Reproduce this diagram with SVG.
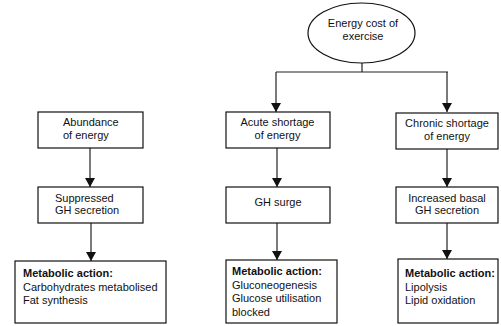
<svg xmlns="http://www.w3.org/2000/svg" width="501" height="326" viewBox="0 0 501 326">
<style>
.box{fill:#fff;stroke:#111;stroke-width:1.2}
.t{font-family:"Liberation Sans",Arial,sans-serif;font-size:11px;fill:#111}
.b{font-weight:bold}
.c{text-anchor:middle}
.ln{fill:none;stroke:#222;stroke-width:1.2}
</style>
<defs>
<marker id="ah" markerWidth="10" markerHeight="11" refX="9" refY="5" orient="auto" markerUnits="userSpaceOnUse">
<path d="M0,0 L9,5 L0,10 Z" fill="#111"/>
</marker>
</defs>
<rect width="501" height="326" fill="#fff"/>
<g id="connectors">
<path class="ln" d="M362,63 V72 M276,72 H448"/>
<path class="ln" d="M276,72 V112" marker-end="url(#ah)"/>
<path class="ln" d="M447,72 V112" marker-end="url(#ah)"/>
<path class="ln" d="M90,148 V187" marker-end="url(#ah)"/>
<path class="ln" d="M277,148 V187" marker-end="url(#ah)"/>
<path class="ln" d="M447,149 V187" marker-end="url(#ah)"/>
<path class="ln" d="M91,223 V261" marker-end="url(#ah)"/>
<path class="ln" d="M277,223 V260" marker-end="url(#ah)"/>
<path class="ln" d="M447,223 V259" marker-end="url(#ah)"/>
</g>
<g id="energy-cost">
<ellipse class="box" cx="361.5" cy="33" rx="53.5" ry="30"/>
<text class="t c" x="363" y="27">Energy cost of</text>
<text class="t c" x="363" y="40">exercise</text>
</g>
<g id="abundance">
<rect class="box" x="38" y="112" width="105" height="36"/>
<text class="t" x="63" y="126">Abundance</text>
<text class="t" x="63" y="139">of energy</text>
</g>
<g id="acute">
<rect class="box" x="226" y="112" width="104" height="36"/>
<text class="t c" x="277.5" y="126">Acute shortage</text>
<text class="t c" x="277.5" y="139">of energy</text>
</g>
<g id="chronic">
<rect class="box" x="396" y="113" width="102" height="36"/>
<text class="t c" x="447" y="127">Chronic shortage</text>
<text class="t c" x="447" y="140">of energy</text>
</g>
<g id="suppressed">
<rect class="box" x="38" y="187" width="105" height="36"/>
<text class="t" x="55" y="202">Suppressed</text>
<text class="t" x="55" y="214">GH secretion</text>
</g>
<g id="gh-surge">
<rect class="box" x="226" y="187" width="104" height="36"/>
<text class="t c" x="278" y="206">GH surge</text>
</g>
<g id="increased">
<rect class="box" x="396" y="187" width="102" height="36"/>
<text class="t c" x="447" y="202">Increased basal</text>
<text class="t c" x="447" y="214">GH secretion</text>
</g>
<g id="metabolic-left">
<rect class="box" x="15" y="261" width="151" height="62"/>
<text class="t b" x="23" y="277">Metabolic action:</text>
<text class="t" x="23" y="291">Carbohydrates metabolised</text>
<text class="t" x="23" y="304">Fat synthesis</text>
</g>
<g id="metabolic-middle">
<rect class="box" x="226" y="260" width="111" height="63"/>
<text class="t b" x="232" y="275">Metabolic action:</text>
<text class="t" x="232" y="288.5">Gluconeogenesis</text>
<text class="t" x="232" y="302">Glucose utilisation</text>
<text class="t" x="232" y="315.5">blocked</text>
</g>
<g id="metabolic-right">
<rect class="box" x="398" y="259" width="100" height="64"/>
<text class="t b" x="405" y="277">Metabolic action:</text>
<text class="t" x="405" y="291">Lipolysis</text>
<text class="t" x="405" y="304">Lipid oxidation</text>
</g>
</svg>
